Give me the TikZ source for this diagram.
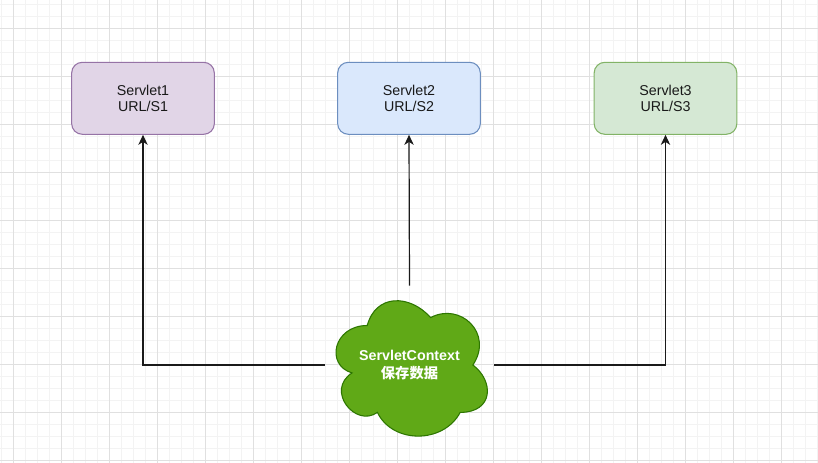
\documentclass[tikz,border=0pt]{standalone}
\usepackage{fontspec}
\setmainfont{Liberation Sans}
\newfontfamily\cjk{Noto Sans CJK SC}
\usetikzlibrary{arrows.meta}
\definecolor{minorgrid}{HTML}{F3F3F3}
\definecolor{majorgrid}{HTML}{E0E0E0}
\definecolor{purplefill}{HTML}{E1D5E7}
\definecolor{purpleline}{HTML}{9673A6}
\definecolor{bluefill}{HTML}{DAE8FC}
\definecolor{blueline}{HTML}{6C8EBF}
\definecolor{greenfill}{HTML}{D5E8D4}
\definecolor{greenline}{HTML}{82B366}
\definecolor{cloudfill}{HTML}{60A917}
\definecolor{cloudline}{HTML}{2D7600}
\definecolor{edgecol}{HTML}{1A1A1A}
\tikzset{
  servletbox/.style={draw, rounded corners=8pt, line width=0.8pt,
    minimum width=107pt, minimum height=54pt, align=center,
    font=\fontsize{10.7pt}{12pt}\selectfont, text=black!90},
  link/.style={draw=edgecol, line width=0.9pt,
    -{Stealth[length=7.5pt,width=7pt,inset=2.2pt]}},
}
\begin{document}
\begin{tikzpicture}[x=0.75pt,y=-0.75pt]
\useasboundingbox (0,0) rectangle (818,463);
\fill[white] (0,0) rectangle (818,463);
% grid
\begin{scope}
\clip (0,0) rectangle (818,463);
\foreach \i in {0,...,68} {
  \draw[minorgrid, line width=0.6pt] ({1.3+12*\i},0) -- ({1.3+12*\i},463);
}
\foreach \j in {0,...,38} {
  \draw[minorgrid, line width=0.6pt] (0,{4.3+12*\j}) -- (818,{4.3+12*\j});
}
\foreach \i in {0,...,17} {
  \draw[majorgrid, line width=0.7pt] ({13.3+48*\i},0) -- ({13.3+48*\i},463);
}
\foreach \j in {-1,...,9} {
  \draw[majorgrid, line width=0.7pt] (0,{28.3+48*\j}) -- (818,{28.3+48*\j});
}
\end{scope}
% boxes
\node[servletbox, fill=purplefill, draw=purpleline] (b1) at (143,98.3) {Servlet1\\URL/S1};
\node[servletbox, fill=bluefill, draw=blueline] (b2) at (409,98.3) {Servlet2\\URL/S2};
\node[servletbox, fill=greenfill, draw=greenline] (b3) at (665.5,98.3) {Servlet3\\URL/S3};
% cloud shape (x0=325, y0=286, w=169, h=158)
\begin{scope}[shift={(325,286)}, x=126.75pt, y=-118.5pt]
\filldraw[fill=cloudfill, draw=cloudline, line width=0.8pt]
  (0.25,0.25)
  .. controls (0.05,0.25) and (0,0.5) .. (0.16,0.55)
  .. controls (0,0.66) and (0.18,0.9) .. (0.31,0.8)
  .. controls (0.4,1) and (0.7,1) .. (0.8,0.8)
  .. controls (1,0.8) and (1,0.6) .. (0.875,0.5)
  .. controls (1,0.3) and (0.8,0.1) .. (0.625,0.2)
  .. controls (0.5,0.05) and (0.3,0.05) .. (0.25,0.25) -- cycle;
\end{scope}
\node[minimum width=126.75pt, minimum height=118.5pt, inner sep=0pt, align=center,
  text=white, font=\bfseries\fontsize{10.7pt}{13pt}\selectfont] (ctx) at (409.5,365)
  {ServletContext\\{\cjk\bfseries 保存数据}};
% connectors
\draw[link] (ctx.west) -| (b1.south);
\draw[link] (ctx.north) -- (b2.south);
\draw[link] (ctx.east) -| (b3.south);
\end{tikzpicture}
\end{document}
